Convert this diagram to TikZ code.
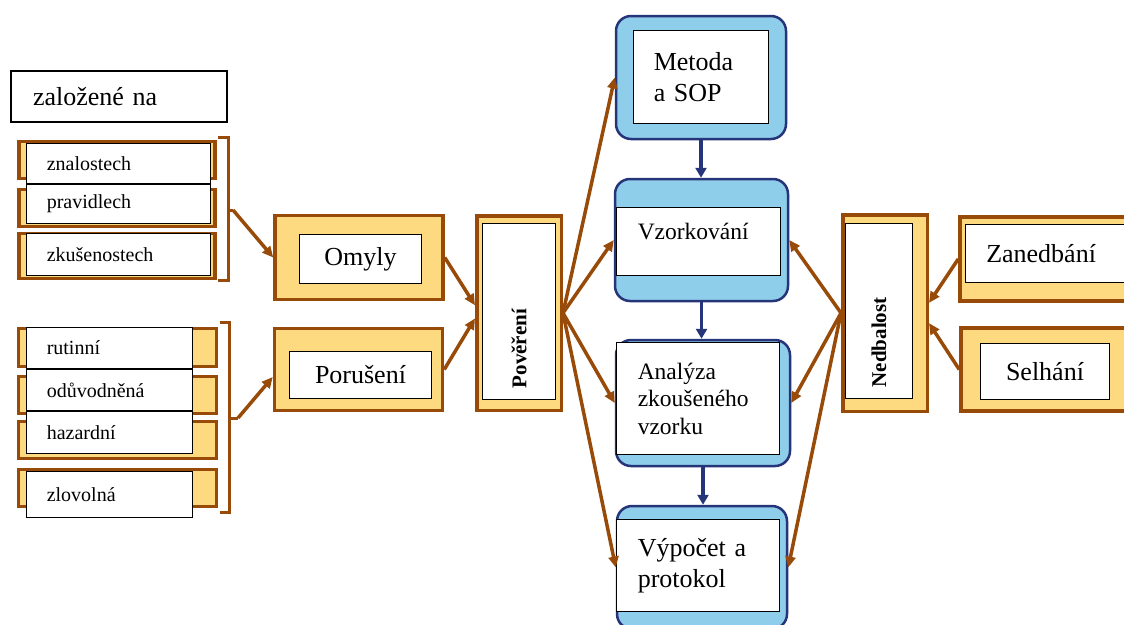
\documentclass[tikz,border=0pt]{standalone}
\usepackage{fontspec}
\setmainfont{Liberation Serif}
\usepackage{xcolor}
\usetikzlibrary{arrows.meta}
\definecolor{chybbrown}{RGB}{152,74,8}
\definecolor{chybyellow}{RGB}{253,218,128}
\definecolor{chybsky}{RGB}{142,206,234}
\definecolor{chybnavy}{RGB}{38,52,122}

\begin{document}
\begin{tikzpicture}[
    x=1pt, y=-1pt,
    yframe/.style={rectangle, draw=chybbrown, fill=chybyellow, line width=3.5pt},
    bframe/.style={rectangle, draw=chybnavy, fill=chybsky, line width=2.5pt, rounded corners=15pt},
    card/.style={rectangle, draw=black, fill=white, line width=1.4pt, align=left, inner ysep=0pt},
    fbig/.style={font=\fontsize{26}{31}\selectfont},
    fmed/.style={font=\fontsize{23.5}{27.5}\selectfont},
    fsmall/.style={font=\fontsize{20}{24}\selectfont},
    fbold/.style={font=\fontsize{21}{25}\selectfont\bfseries},
    brace/.style={draw=chybbrown, line width=3pt},
    arrow/.style={-{Triangle[length=11pt,width=10pt]}, line width=3.5pt, chybbrown},
    flowarrow/.style={-{Triangle[length=10pt,width=11pt]}, line width=3.5pt, chybnavy}
]
\useasboundingbox (0,0) rectangle (1124,624);

% Header
\node[card, fbig, minimum width=216pt, minimum height=51pt, inner xsep=22pt, text width=172pt] (zalozene) at (119,96.5) {založené na};

% Left column: omyly
\node[yframe, minimum width=196pt, minimum height=37pt] (znbg) at (117,160) {};
\node[yframe, minimum width=196pt, minimum height=37pt] (prbg) at (117,208) {};
\node[yframe, minimum width=196pt, minimum height=45pt] (zkbg) at (117,256) {};
\node[card, fsmall, minimum width=183.5pt, minimum height=39.5pt, inner xsep=20pt, text width=143.5pt] (znalosti) at (118.5,163.5) {znalostech};
\node[card, fsmall, minimum width=183.5pt, minimum height=38.5pt, inner xsep=20pt, text width=143.5pt] (pravidla) at (118.5,204) {pravidlech};
\node[card, fsmall, minimum width=183.5pt, minimum height=41.5pt, inner xsep=20pt, text width=143.5pt] (zkusenosti) at (118.5,254.5) {zkušenostech};

% Left column: poruseni
\node[yframe, minimum width=198pt, minimum height=38pt] (rubg) at (117.5,347.5) {};
\node[yframe, minimum width=198pt, minimum height=37pt] (odbg) at (117.5,395) {};
\node[yframe, minimum width=198pt, minimum height=37pt] (habg) at (117.5,440) {};
\node[yframe, minimum width=198pt, minimum height=37pt] (zlbg) at (117.5,488) {};
\node[card, fsmall, minimum width=165.5pt, minimum height=40.5pt, inner xsep=20pt, text width=125.5pt] (rutinni) at (109.5,348) {rutinní};
\node[card, fsmall, minimum width=165.5pt, minimum height=40.5pt, inner xsep=20pt, text width=125.5pt] (oduvodnena) at (109.5,390) {odůvodněná};
\node[card, fsmall, minimum width=165.5pt, minimum height=41.5pt, inner xsep=20pt, text width=125.5pt] (hazardni) at (109.5,432.5) {hazardní};
\node[card, fsmall, minimum width=165.5pt, minimum height=45.5pt, inner xsep=20pt, text width=125.5pt] (zlovolna) at (109.5,494.5) {zlovolná};

% Brackets
\coordinate (brace1) at (233,210);
\coordinate (brace2) at (238,418);
\draw[brace] (218,137) -- (228,137) -- (228,280) -- (218,280) (228,210) -- (brace1);
\draw[brace] (220,322) -- (229,322) -- (229,512) -- (220,512) (229,418) -- (brace2);

% Middle: Omyly, Poruseni, Povereni
\node[yframe, minimum width=168pt, minimum height=84pt] (omyly) at (359,257.5) {};
\node[card, fbig, align=center, minimum width=121.5pt, minimum height=48.5pt] (omylytxt) at (360.5,259) {Omyly};
\node[yframe, minimum width=168pt, minimum height=82pt] (porus) at (358.5,369.5) {};
\node[card, fbig, align=center, minimum width=141.5pt, minimum height=46.5pt] (porustxt) at (360.5,375) {Porušení};
\node[yframe, minimum width=84.5pt, minimum height=194.5pt] (pover) at (519,313) {};
\node[card, fbold, rotate=90, minimum width=175.5pt, minimum height=72.5pt, inner xsep=11pt, text width=153.5pt] (povertxt) at (519,311.5) {Pověření};

% Process column
\node[bframe, minimum width=170pt, minimum height=123pt] (metoda) at (701,77.5) {};
\node[card, fbig, minimum width=134.5pt, minimum height=92.5pt, inner xsep=20pt, text width=94.5pt] (metodatxt) at (701,77) {Metoda\\a SOP};
\node[bframe, minimum width=173pt, minimum height=122pt] (vzork) at (701.5,240) {};
\node[card, fmed, minimum width=163.5pt, minimum height=67.5pt, inner xsep=21pt, text width=121.5pt, text depth=20pt] (vzorktxt) at (698.5,241.5) {Vzorkování};
\node[bframe, minimum width=174pt, minimum height=126pt] (analyza) at (703,403) {};
\node[card, fmed, minimum width=162.5pt, minimum height=111.5pt, inner xsep=21pt, text width=120.5pt] (analyzatxt) at (698,398.5) {Analýza\\zkoušeného\\vzorku};
\node[bframe, minimum width=170pt, minimum height=123pt] (vypocet) at (702,567.5) {};
\node[card, fbig, minimum width=162.5pt, minimum height=91.5pt, inner xsep=21pt, text width=120.5pt] (vypocettxt) at (698,565.5) {Výpočet a\\protokol};

% Right: Nedbalost, Zanedbani, Selhani
\node[yframe, minimum width=84.5pt, minimum height=196.5pt] (nedb) at (885,313) {};
\node[card, fbold, rotate=90, minimum width=174.5pt, minimum height=66.5pt, inner xsep=11pt, text width=152.5pt] (nedbtxt) at (879,311) {Nedbalost};
\node[yframe, minimum width=180pt, minimum height=84pt] (zanedb) at (1050,259) {};
\node[card, fbig, minimum width=173.5pt, minimum height=57.5pt, inner xsep=21pt, text width=131.5pt] (zanedbtxt) at (1052,253.5) {Zanedbání};
\node[yframe, minimum width=180pt, minimum height=83pt] (selhani) at (1051,369.5) {};
\node[card, fbig, align=center, minimum width=128.5pt, minimum height=55.5pt] (selhanitxt) at (1045,371.5) {Selhání};

% Connections
\draw[arrow] (brace1) -- (omyly.west);
\draw[arrow] (brace2) -- (porus.185);
\draw[arrow] (omyly.east) -- (pover.170);
\draw[arrow] (porus.east) -- (pover.187);
\draw[arrow] (pover.east) -- (metoda.west);
\draw[arrow] (pover.east) -- (vzork.west);
\draw[arrow] (pover.east) -- (analyza.west);
\draw[arrow] (pover.east) -- (vypocet.west);
\draw[arrow] (nedb.west) -- (vzork.east);
\draw[arrow] (nedb.west) -- (analyza.east);
\draw[arrow] (nedb.west) -- (vypocet.east);
\draw[arrow] (zanedb.west) -- (nedb.13);
\draw[arrow] (selhani.west) -- (nedb.-13);
\draw[flowarrow] (metoda.south) -- (metoda.south |- vzork.north);
\draw[flowarrow] (vzork.south) -- (vzork.south |- analyza.north);
\draw[flowarrow] (analyza.south) -- (analyza.south |- vypocet.north);

\end{tikzpicture}
\end{document}
